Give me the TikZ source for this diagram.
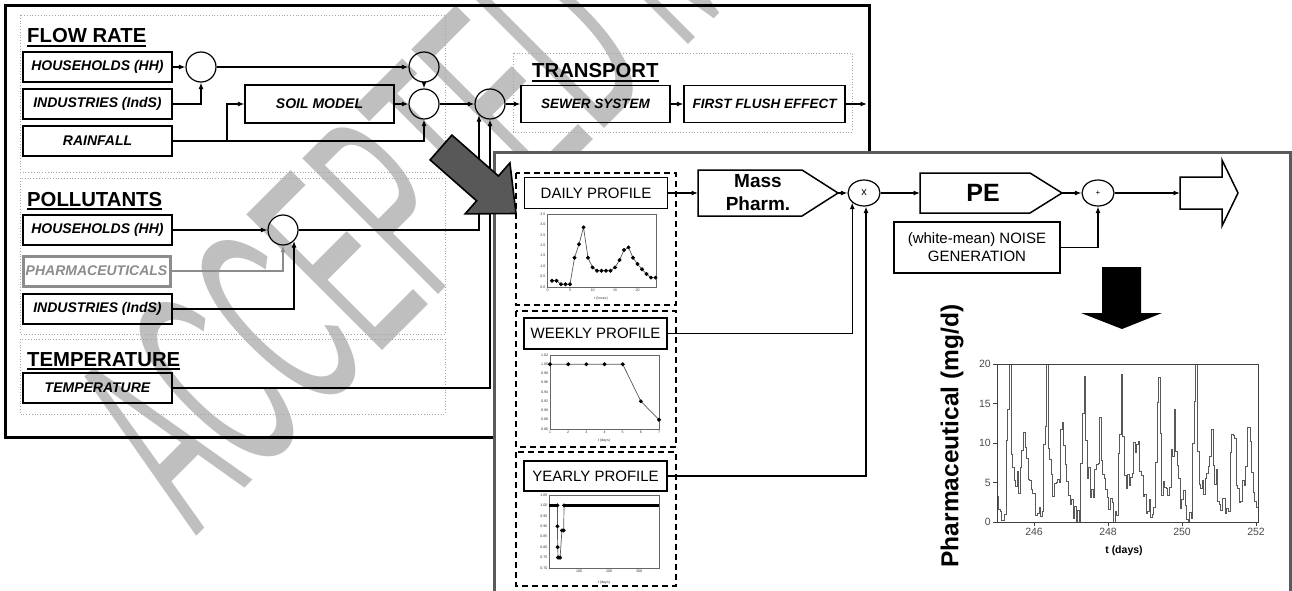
\documentclass[tikz,border=0pt]{standalone}
\usepackage{fontspec}
\setmainfont{Liberation Sans}
\usetikzlibrary{arrows.meta,calc,shapes.geometric}
\definecolor{panelgray}{HTML}{5A5A5A}
\definecolor{bigarrow}{HTML}{585858}
\definecolor{pharmgray}{HTML}{8C8C8C}
\newcommand\myul[1]{\setbox0\hbox{#1}\rlap{\rule[-3.6pt]{\wd0}{1.8pt}}\box0}
\begin{document}
\begin{tikzpicture}[x=1pt,y=-1pt,
  >={Latex[length=6.5pt,width=5pt]},
  conn/.style={line width=1.2pt,->},
  lbox/.style={draw,line width=1.2pt,minimum width=149pt,minimum height=30pt,inner sep=0pt,
     font=\fontsize{14}{16}\selectfont\bfseries\itshape},
  head/.style={anchor=base west,inner sep=0pt,font=\fontsize{20.3}{22}\selectfont\bfseries},
  dotbox/.style={draw=gray!70,line width=0.8pt,dotted},
  sumc/.style={circle,draw,line width=1.2pt,minimum size=30pt,inner sep=0pt},
  dashbox/.style={draw,line width=1.8pt,dash pattern=on 6pt off 4pt},
  pbox/.style={draw,line width=1.5pt,minimum width=143pt,minimum height=31pt,inner sep=0pt,font=\fontsize{15}{17}\selectfont},
  opell/.style={ellipse,draw,line width=1.2pt,minimum width=32pt,minimum height=26pt,inner sep=0pt},
  tick/.style={font=\fontsize{3.6}{4}\selectfont,inner sep=0.5pt,text=black!80},
  frm/.style={draw=black!60,line width=0.6pt},
  dat/.style={draw=black!65,line width=0.7pt,mark=*,mark size=1.6pt,mark options={fill=black,draw=black}},
  bigtick/.style={font=\fontsize{10.5}{12}\selectfont,text=black!70,inner sep=1pt},
]
\useasboundingbox (0,0) rectangle (1292,591);
\fill[white] (0,0) rectangle (1292,591);

% watermark
\begin{scope}[shift={(196,537)},cm={0.566,0.566,-1.315,1.315,(0,0)}]
\node[anchor=base west,inner sep=0pt,transform shape,text=black!50,text opacity=0.5,
  font=\fontsize{150}{150}\selectfont] (wm) at (0,0) {ACCEPTED MANUSCRIPT};
\end{scope}

% left frame
\draw[line width=3pt] (5,6) rectangle (869,437);
\draw[dotbox] (20,15) rectangle (445,172);
\draw[dotbox] (20,178) rectangle (445,334);
\draw[dotbox] (20,339) rectangle (445,414);
\draw[dotbox] (513,53) rectangle (852,132);

\node[head] (hflow) at (27,43) {\myul{FLOW RATE}};
\node[head] (hpoll) at (27,206) {\myul{POLLUTANTS}};
\node[head] (htemp) at (27,366) {\myul{TEMPERATURE}};
\node[head] (htrans) at (532,78) {\myul{TRANSPORT}};

% flow rate
\node[lbox] (hh1) at (97.5,67) {HOUSEHOLDS (HH)};
\node[lbox] (ind1) at (97.5,104) {INDUSTRIES (IndS)};
\node[lbox] (rain) at (97.5,141) {RAINFALL};
\node[lbox,minimum height=38pt] (soil) at (319.5,104) {SOIL MODEL};
\node[sumc] (c1) at (201,67) {};
\node[sumc] (c2) at (424,67) {};
\node[sumc] (c3) at (424,104) {};
\node[sumc] (c4) at (490,104) {};
\draw[conn] (hh1) -- (c1);
\draw[conn] (ind1.east) -| (c1.south);
\draw[conn] (c1) -- (c2);
\draw[conn] (soil) -- (c3);
\draw[conn] (c2) -- (c3);
\draw[conn] (rain.east) -| (c3.south);
\coordinate (rbr) at (227,141);
\draw[conn] (rbr) |- (soil.west);
\draw[conn] (c3) -- (c4);

% pollutants
\node[lbox] (hh2) at (97.5,230) {HOUSEHOLDS (HH)};
\node[lbox,draw=pharmgray,line width=3pt,text=pharmgray,minimum width=147pt] (pharm) at (96.5,271) {PHARMACEUTICALS};
\node[lbox] (ind2) at (97.5,309) {INDUSTRIES (IndS)};
\node[sumc] (pc) at (283,230) {};
\draw[conn] (hh2) -- (pc);
\draw[conn,draw=pharmgray,line width=2.6pt] (pharm.east) -| (pc.south);
\draw[conn] (ind2.east) -| (pc.south east);
\draw[conn] (pc.east) -| (c4.south west);

% temperature
\node[lbox] (temp) at (97.5,388) {TEMPERATURE};
\draw[conn] (temp.east) -| (c4.south);

% transport
\node[lbox,minimum height=37pt,font=\fontsize{13.5}{15}\selectfont\bfseries\itshape] (sewer) at (595.5,104) {SEWER SYSTEM};
\node[lbox,minimum width=161pt,minimum height=37pt,font=\fontsize{13.5}{15}\selectfont\bfseries\itshape] (ffe) at (764.5,104) {FIRST FLUSH EFFECT};
\draw[conn] (c4) -- (sewer);
\draw[conn] (sewer) -- (ffe);
\coordinate (fout) at (867,104);
\draw[conn] (ffe) -- (fout);

% right panel
\draw[draw=panelgray,fill=white,line width=3pt] (494,152) rectangle (1290,596);

% big gray arrow
\draw[fill=bigarrow,line width=1.6pt,line join=miter] (430.1,159.9) -- (451.9,135.1) -- (498.4,176.0) -- (509.9,162.9) -- (516,213.5) -- (465.1,213.9) -- (476.6,200.8) -- cycle;

% profiles
\draw[dashbox] (516,173) rectangle (676,305);
\node[pbox] (dp) at (596,193) {DAILY PROFILE};
\draw[dashbox] (516,311) rectangle (676,447);
\node[pbox] (wp) at (595.5,333.5) {WEEKLY PROFILE};
\draw[dashbox] (516,452) rectangle (676,586);
\node[pbox,minimum height=30pt] (yp) at (595.5,476) {YEARLY PROFILE};

% mass pharm
\draw[line width=1.5pt,line join=miter] (698,170) -- (802,170) -- (838,193) -- (802,216) -- (698,216) -- cycle;
\node[font=\fontsize{19}{23}\selectfont\bfseries,align=center] (mp) at (758,193) {Mass\\Pharm.};
\coordinate (mpin) at (698,193);
\coordinate (mptip) at (838,193);
\node[opell] (xop) at (864,193) {\fontsize{11}{11}\selectfont x};
\draw[conn] (dp.east) -- (mpin);
\draw[conn] (mptip) -- (xop);
\draw[conn] (wp.east) -| (xop.south west);
\draw[conn] (yp.east) -| ([xshift=2pt]xop.south);

% PE
\draw[line width=1.5pt,line join=miter] (920,173) -- (1030,173) -- (1062,193) -- (1030,213) -- (920,213) -- cycle;
\node[font=\fontsize{25}{25}\selectfont\bfseries] (pe) at (983,193) {PE};
\coordinate (pein) at (920,193);
\coordinate (petip) at (1062,193);
\draw[conn] (xop) -- (pein);
\node[opell] (plus) at (1098,193) {\fontsize{8}{8}\selectfont +};
\draw[conn] (petip) -- (plus);
\node[draw,line width=1.5pt,minimum width=166pt,minimum height=51pt,align=center,inner sep=0pt,
  font=\fontsize{15}{18}\selectfont] (noise) at (977,247.5) {(white-mean) NOISE\\GENERATION};
\draw[conn] (noise.east) -| (plus.south);

% hollow arrow
\draw[line width=1.5pt,line join=miter] (1180,177) -- (1222,177) -- (1222,160) -- (1238,193) -- (1222,226) -- (1222,209) -- (1180,209) -- cycle;
\coordinate (hin) at (1180,193);
\draw[conn] (plus) -- (hin);

% black arrow
\fill (1102,267) -- (1141,267) -- (1141,313) -- (1162,313) -- (1122,329) -- (1081,313) -- (1102,313) -- cycle;

% big chart
\pgfmathsetseed{11}
\def\prof{{0.45,0.3,0.3,0.13,0.13,0.13,1.4,2.05,2.86,1.4,0.94,0.78,0.78,0.78,0.78,0.94,1.29,1.77,1.9,1.4,1.1,0.85,0.62,0.45}}
\gdef\ts{}
\foreach \i in {0,...,168} {
  \pgfmathtruncatemacro\h{mod(\i,24)}
  \pgfmathsetmacro\vv{5.9*\prof[\h]*(1+0.3*rand)+1.3*rand}
  \pgfmathsetmacro\vv{max(0,min(20,\vv))}
  \pgfmathsetmacro\xx{997+\i*1.55357}
  \pgfmathsetmacro\yy{522-7.9*\vv}
  \xdef\ts{\ts (\xx,\yy)}
}
\begin{scope}
\clip (997,362) rectangle (1258,523);
\draw[black!65,line width=0.9pt] plot[const plot] coordinates {\ts};
\end{scope}
\draw[black!75,line width=0.8pt] (997,364) rectangle (1258,522);
\foreach \v/\yy in {0/522,5/482.5,10/443,15/403.5,20/364} {
  \draw[black!75,line width=0.8pt] (993,\yy) -- (997,\yy);
  \node[bigtick,anchor=east] (byl\v) at (992,\yy) {\v};
}
\foreach \t/\xx in {246/1034,248/1108,250/1182,252/1256} {
  \draw[black!75,line width=0.8pt] (\xx,522) -- (\xx,526);
  \node[bigtick,anchor=north] (bxl\t) at (\xx,527) {\t};
}
\node[font=\fontsize{10.5}{12}\selectfont\bfseries] (bxlab) at (1124,551) {t (days)};
\node[rotate=90,font=\fontsize{24.5}{26}\selectfont\bfseries] (bylab) at (952,436) {Pharmaceutical (mg/d)};

% daily chart
\draw[frm] (547.5,214) rectangle (656,287);
\begin{scope}[shift={(547.5,287)},x=4.5pt,y=20.857pt]
  \draw[dat] plot coordinates {(1,0.3) (2,0.3) (3,0.13) (4,0.13) (5,0.13) (6,1.4) (7,2.05) (8,2.86) (9,1.4) (10,0.94) (11,0.78) (12,0.78) (13,0.78) (14,0.78) (15,0.94) (16,1.29) (17,1.77) (18,1.9) (19,1.4) (20,1.1) (21,0.85) (22,0.62) (23,0.45) (24,0.45)};
  \foreach \v [count=\k] in {0.0,0.5,1.0,1.5,2.0,2.5,3.0,3.5}
    \node[tick,anchor=east] (dyl\k) at (-0.3,\v) {\v};
  \foreach \t in {0,5,10,15,20}
    \node[tick,anchor=north] (dxl\t) at (\t,-0.08) {\t};
\end{scope}
\node[tick] (dxlab) at (601,298.5) {t (hours)};

% weekly chart
\draw[frm] (550,355) rectangle (659,429);
\begin{scope}[shift={(531.83,826.75)},x=18.17pt,y=462.5pt]
  \draw[dat] plot coordinates {(1,1) (2,1) (3,1) (4,1) (5,1) (6,0.92) (7,0.88)};
  \foreach \v [count=\k] in {1.02,1.00,0.98,0.96,0.94,0.92,0.90,0.88,0.86}
    \node[tick,anchor=east] (wyl\k) at (0.93,\v) {\v};
  \foreach \t in {1,...,7}
    \node[tick,anchor=north] (wxl\t) at (\t,0.857) {\t};
\end{scope}
\node[tick] (wxlab) at (604,441) {t (days)};

% yearly chart
\draw[frm] (549,495) rectangle (659,568);
\begin{scope}[shift={(549,714)},x=0.3pt,y=208.6pt]
  \draw[line width=3.5pt] (0,1) -- (28,1);
  \draw[line width=3.5pt] (49,1) -- (365,1);
  \draw[dat] plot coordinates {(28,1) (28,0.90) (29,0.80) (30,0.75) (33,0.75) (37,0.75) (43,0.88) (49,0.88) (50,1)};
  \foreach \v [count=\k] in {1.05,1.00,0.95,0.90,0.85,0.80,0.75,0.70}
    \node[tick,anchor=east] (yyl\k) at (-3,\v) {\v};
  \foreach \t in {100,200,300}
    \node[tick,anchor=north] (yxl\t) at (\t,0.695) {\t};
\end{scope}
\node[tick] (yxlab) at (604,583) {t (days)};
\end{tikzpicture}
\end{document}
